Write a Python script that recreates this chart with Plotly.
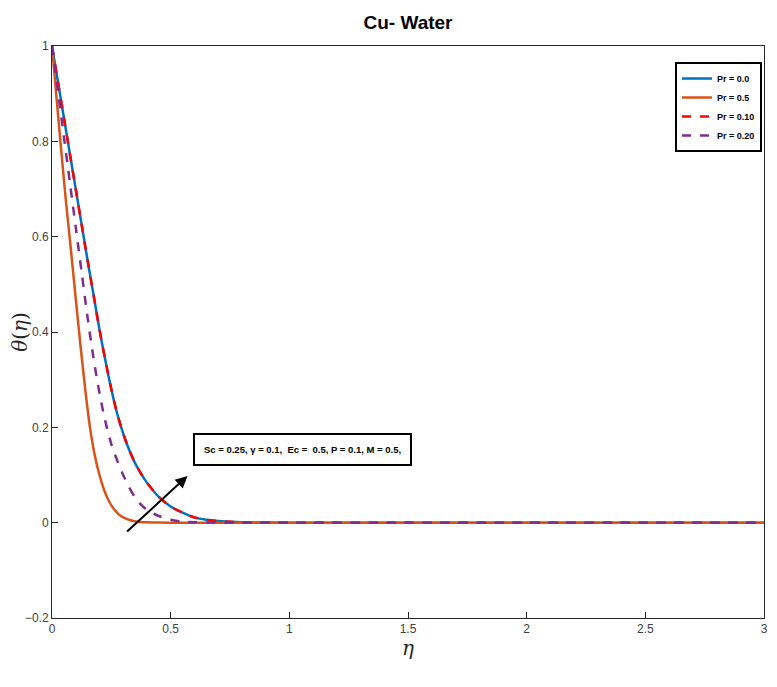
import plotly.graph_objects as go

# theta(eta) profiles
eta_blue = [0, 0.025, 0.05, 0.075, 0.1, 0.125, 0.15, 0.175, 0.2, 0.225, 0.25, 0.275, 0.3,
            0.325, 0.35, 0.375, 0.4, 0.45, 0.5, 0.55, 0.6, 0.65, 0.7, 0.8, 0.9, 1.0, 1.5, 2.0, 2.5, 3.0]
theta_blue = [1.0, 0.925, 0.85, 0.775, 0.70, 0.625, 0.55, 0.478, 0.405, 0.34, 0.28, 0.228, 0.187,
              0.153, 0.125, 0.103, 0.084, 0.054, 0.034, 0.021, 0.011, 0.006, 0.0035, 0.001, 0.0003, 0, 0, 0, 0, 0]

eta_orange = [0, 0.02, 0.04, 0.06, 0.08, 0.1, 0.12, 0.14, 0.16, 0.18, 0.2, 0.22, 0.24, 0.26,
              0.28, 0.3, 0.33, 0.36, 0.4, 0.45, 0.5, 1.0, 1.5, 2.0, 2.5, 3.0]
theta_orange = [1.0, 0.886, 0.775, 0.668, 0.571, 0.47, 0.372, 0.28, 0.2, 0.142, 0.1, 0.068,
                0.045, 0.029, 0.018, 0.011, 0.005, 0.002, 0.0008, 0.0002, 0, 0, 0, 0, 0, 0]

eta_purple = [0, 0.025, 0.05, 0.075, 0.1, 0.125, 0.15, 0.175, 0.2, 0.225, 0.25, 0.275, 0.3,
              0.325, 0.35, 0.375, 0.4, 0.45, 0.5, 0.55, 0.6, 0.7, 1.0, 1.5, 2.0, 2.5, 3.0]
theta_purple = [1.0, 0.905, 0.81, 0.715, 0.62, 0.525, 0.43, 0.345, 0.272, 0.212, 0.165, 0.13,
                0.1, 0.074, 0.053, 0.038, 0.027, 0.014, 0.006, 0.0025, 0.001, 0, 0, 0, 0, 0, 0]

# Pr = 0.10 lies on top of Pr = 0.0
eta_red = eta_blue
theta_red = theta_blue

x_ticks = [0, 0.5, 1, 1.5, 2, 2.5, 3]
y_ticks = [-0.2, 0, 0.2, 0.4, 0.6, 0.8, 1]

sans = "Liberation Sans Narrow, Arial Narrow, Liberation Sans, Arial, sans-serif"

fig = go.Figure()
fig.add_trace(go.Scatter(x=eta_blue, y=theta_blue, mode="lines", name="<b>Pr = 0.0</b>",
                         line=dict(color="#0072BD", width=2.5, shape="spline", smoothing=0.8)))
fig.add_trace(go.Scatter(x=eta_orange, y=theta_orange, mode="lines", name="<b>Pr = 0.5</b>",
                         line=dict(color="#D95319", width=2.5, shape="spline", smoothing=0.8)))
fig.add_trace(go.Scatter(x=eta_red, y=theta_red, mode="lines", name="<b>Pr = 0.10</b>",
                         line=dict(color="#FF0000", width=2.5, dash="dash", shape="spline", smoothing=0.8)))
fig.add_trace(go.Scatter(x=eta_purple, y=theta_purple, mode="lines", name="<b>Pr = 0.20</b>",
                         line=dict(color="#7E2F8E", width=2.5, dash="dash", shape="spline", smoothing=0.8)))

# parameter box
fig.add_annotation(x=0.352, y=0.295, xref="paper", yref="paper", showarrow=False,
                   xanchor="center", yanchor="middle",
                   text="<b>Sc = 0.25, γ = 0.1,  Ec =  0.5, P = 0.1, M = 0.5,</b>",
                   font=dict(family=sans, size=9.5, color="black"),
                   bordercolor="black", borderwidth=2, borderpad=9, bgcolor="white")

# arrow
fig.add_annotation(x=0.571, y=0.098, ax=0.31, ay=-0.0216, xref="x", yref="y",
                   axref="x", ayref="y", text="", showarrow=True,
                   arrowhead=2, arrowsize=1.2, arrowwidth=2, arrowcolor="black")

fig.update_layout(
    width=761, height=671,
    margin=dict(l=44, r=5, t=38, b=61),
    plot_bgcolor="white", paper_bgcolor="white",
    title=dict(text="<b>Cu- Water</b>", xref="paper", x=0.5, xanchor="center",
               y=0.979, yanchor="middle",
               font=dict(family=sans, size=19, color="black")),
    font=dict(family=sans, size=12, color="#404040"),
    legend=dict(x=0.875, y=0.972, xanchor="left", yanchor="top",
                bordercolor="black", borderwidth=2, bgcolor="white",
                font=dict(family=sans, size=9, color="black"),
                itemwidth=30, tracegroupgap=0),
    showlegend=True,
)
fig.update_xaxes(range=[0, 3], tickvals=x_ticks, ticks="inside", ticklen=6,
                 showgrid=False, zeroline=False, showline=True, linecolor="#262626",
                 linewidth=1, mirror=True, tickcolor="#262626", automargin=False,
                 ticklabeloverflow="allow",
                 title=dict(text="<i>η</i>", font=dict(family="DejaVu Serif", size=20, color="#262626"),
                            standoff=3))
fig.update_yaxes(range=[-0.2, 1], tickvals=y_ticks, ticks="inside", ticklen=6,
                 showgrid=False, zeroline=False, showline=True, linecolor="#262626",
                 linewidth=1, mirror=True, tickcolor="#262626", automargin=False,
                 title=dict(text="<i>θ</i>(<i>η</i>)", font=dict(family="DejaVu Serif", size=20, color="#262626"),
                            standoff=0))

fig.write_html("out.html")
